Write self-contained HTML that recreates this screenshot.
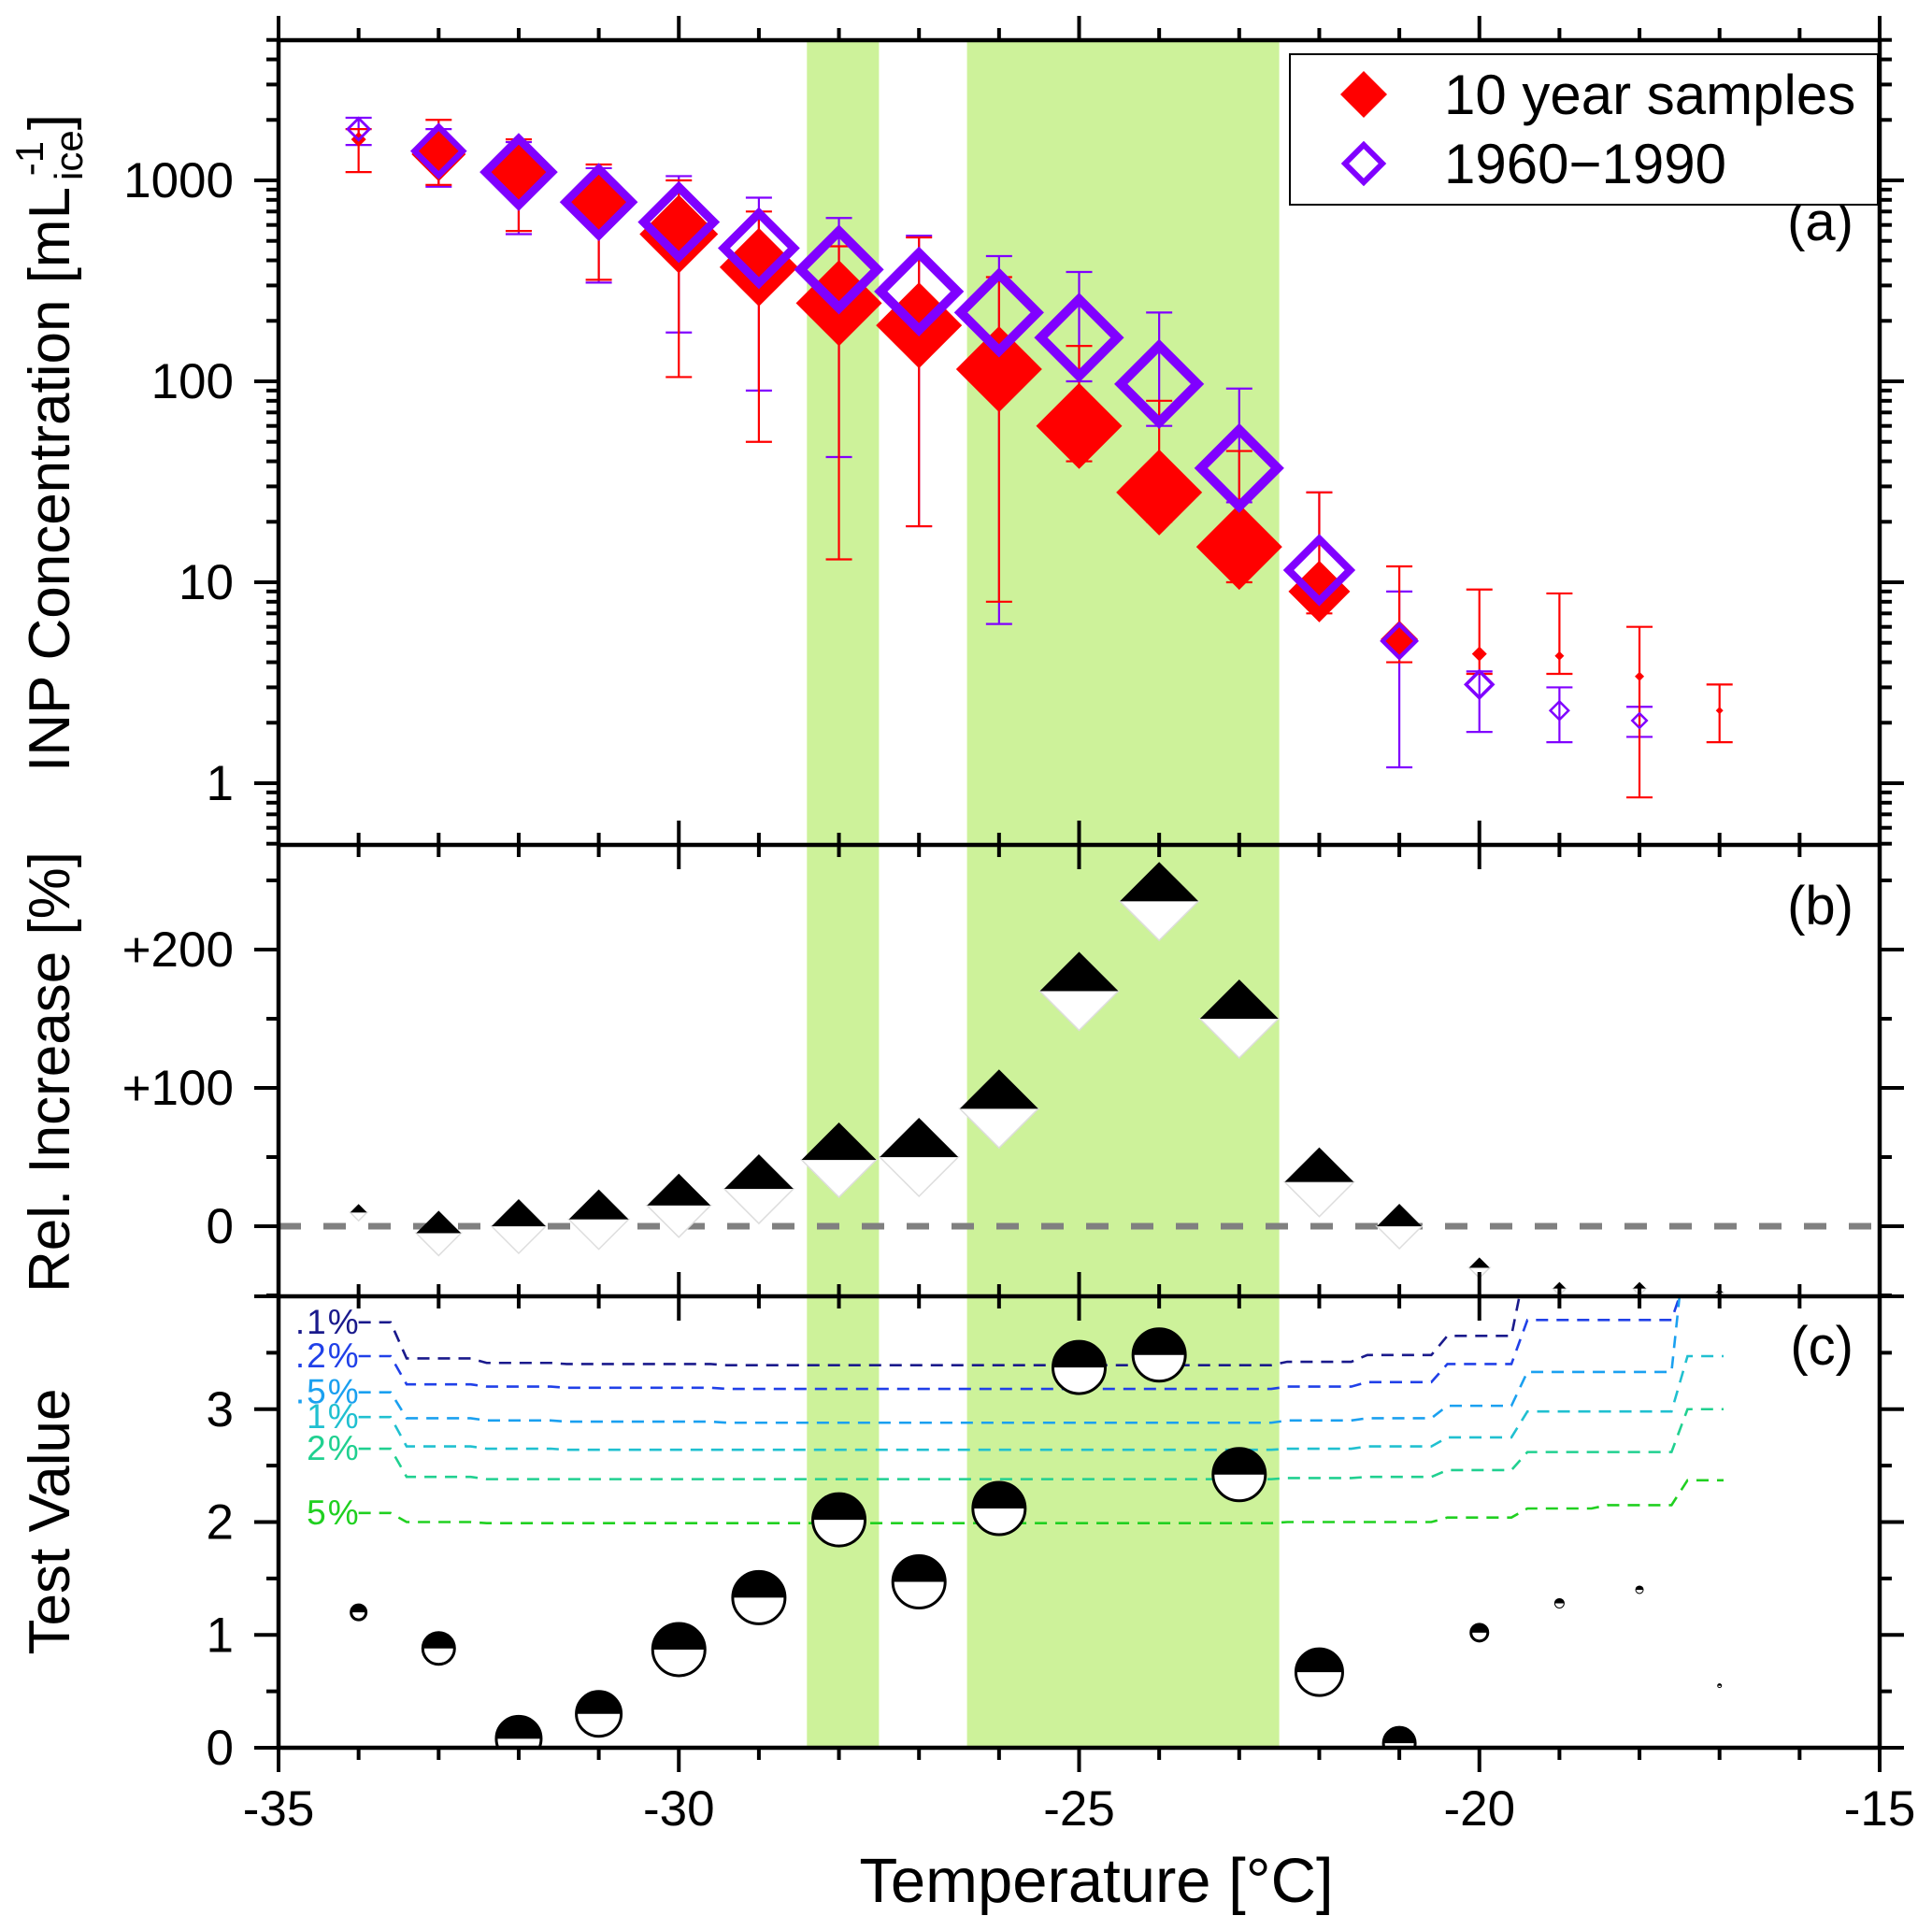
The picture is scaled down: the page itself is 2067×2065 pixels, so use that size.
<!DOCTYPE html>
<html><head><meta charset="utf-8"><style>
body{margin:0;background:#fff}
svg{display:block;font-family:"Liberation Sans",Arial,sans-serif}
</style></head><body>
<svg id="chart" width="2067" height="2065" viewBox="0 0 2067 2065" xmlns="http://www.w3.org/2000/svg">
<g id="bands"></g><g id="grid"></g><g id="marks"></g><g id="axes"></g>
<text transform="translate(74,474) rotate(-90)" text-anchor="middle" font-size="62">INP Concentration [mL<tspan font-size="42" dy="-28"> -1</tspan><tspan font-size="42" dy="42" dx="-42">ice</tspan><tspan dy="-14">]</tspan></text>
<text transform="translate(74,1147) rotate(-90)" text-anchor="middle" font-size="62">Rel. Increase [%]</text>
<text transform="translate(74,1628) rotate(-90)" text-anchor="middle" font-size="62">Test Value</text>
<text x="1173" y="2035" text-anchor="middle" font-size="67">Temperature [°C]</text>
<text x="1983" y="257" text-anchor="end" font-size="58">(a)</text>
<text x="1983" y="989" text-anchor="end" font-size="58">(b)</text>
<text x="1983" y="1460" text-anchor="end" font-size="58">(c)</text>
<g>
<rect x="1380" y="58" width="629" height="161" fill="#fff" stroke="#000" stroke-width="2"/>
<path d="M1459,76 L1484,101 L1459,126 L1434,101Z" fill="#ff0000"/>
<text x="1545" y="122" font-size="60">10 year samples</text>
<path d="M1459,155 L1479,175 L1459,195 L1439,175Z" fill="none" stroke="#8000ff" stroke-width="6"/>
<text x="1545" y="196" font-size="60">1960−1990</text>
</g>
</svg>
<script>
const temps=[-34,-33,-32,-31,-30,-29,-28,-27,-26,-25,-24,-23,-22,-21,-20,-19,-18,-17];
const recentVals=[1600,1350,1050,760,540,370,245,190,115,60,28,15,9,5.2,4.4,4.3,3.4,2.3];
const recentLo=[1100,950,560,320,105,50,13,19,8,40,20,10,7,4,3.5,3.5,0.85,1.6];
const recentHi=[1800,2000,1600,1200,1000,700,470,520,330,150,80,45,28,12,9.2,8.8,6,3.1];
const recentSize=[8,29,37,37,42,42,46,46,46,46,46,46,33,20,8,5,5,4];
const histVals=[1800,1400,1100,780,620,460,360,280,220,165,97,37,11.5,5.1,3.1,2.3,2.05];
const histLo=[1500,930,540,310,175,90,42,19,6.2,100,60,25,8,1.2,1.8,1.6,1.7];
const histHi=[2050,1800,1550,1150,1050,820,650,530,420,350,220,92,28,9,3.6,3.0,2.4];
const histSize=[13,29,40,40,42,42,46,46,46,46,46,46,37,20,16,11,9];
const relVals=[10,-5,0,5,15,27,48,50,85,170,235,150,32,0,-30,-45,-45,-48];
const relSize=[9,24,29,32,34,37,40,42,42,42,42,42,37,24,11,7,7,4];
const testVals=[1.2,0.88,0.08,0.3,0.87,1.33,2.02,1.47,2.12,3.37,3.48,2.42,0.67,0.04,1.02,1.28,1.4,0.55];
const testRad=[8,17,24,24,28,28,28,28,28,28,28,28,25,17,9,5,4,2];
const levelLabels=[".1%",".2%",".5%","1%","2%","5%"];
const lvl01=[3.77,3.45,3.41,3.4,3.4,3.39,3.39,3.39,3.39,3.39,3.39,3.39,3.42,3.48,3.65,null,null,null];
const lvl02=[3.47,3.22,3.2,3.19,3.19,3.18,3.18,3.18,3.18,3.18,3.18,3.18,3.2,3.24,3.4,3.79,3.79,null];
const lvl05=[3.15,2.92,2.9,2.89,2.89,2.88,2.88,2.88,2.88,2.88,2.88,2.88,2.9,2.92,3.03,3.33,3.33,null];
const lvl1=[2.93,2.67,2.65,2.64,2.64,2.64,2.64,2.64,2.64,2.64,2.64,2.64,2.65,2.67,2.75,2.98,2.98,3.47];
const lvl2=[2.65,2.4,2.38,2.38,2.38,2.38,2.38,2.38,2.38,2.38,2.38,2.38,2.39,2.4,2.46,2.62,2.62,3.0];
const lvl5=[2.08,2.0,1.99,1.99,1.99,1.99,1.99,1.99,1.99,1.99,1.99,1.99,2.0,2.0,2.04,2.12,2.15,2.37];
const bandStarts=[-28.4,-26.4];
const bandEnds=[-27.5,-22.5];
const xTicks=[-35,-30,-25,-20,-15];

const NS="http://www.w3.org/2000/svg";
const L=298,R=2011,TA=43,BA=904,BB=1387,BC=1870;
const X=t=>L+(t+35)*(R-L)/20;
const Ya=v=>193-(Math.log10(v)-3)*215;
const Yb=v=>1312-v*1.48;
const Yc=v=>BC-v*(BC-BB)/4;
function mk(p,tag,at){const e=document.createElementNS(NS,tag);for(const k in at)e.setAttribute(k,at[k]);p.appendChild(e);return e;}
const bands=document.getElementById('bands'),marks=document.getElementById('marks'),axes=document.getElementById('axes');

bandStarts.forEach((s,i)=>{
 const r=mk(bands,'rect',{x:X(s),y:TA,width:X(bandEnds[i])-X(s),height:BC-TA,fill:'#cdf29a'});
 
 
});

const zl=mk(marks,'line',{x1:L,x2:R,y1:Yb(0),y2:Yb(0),stroke:'#808080','stroke-width':7,'stroke-dasharray':'24 24'});



function errbar(t,lo,hi,col,nm){
 const g=mk(marks,'g',{stroke:col,'stroke-width':2.2});
 
 
 const x=X(t);mk(g,'line',{x1:x,x2:x,y1:Ya(lo),y2:Ya(hi)});
 mk(g,'line',{x1:x-14,x2:x+14,y1:Ya(lo),y2:Ya(lo)});mk(g,'line',{x1:x-14,x2:x+14,y1:Ya(hi),y2:Ya(hi)});
}
histVals.forEach((v,i)=>errbar(temps[i],histLo[i],histHi[i],'#8000ff','error-bar-1960'));
recentVals.forEach((v,i)=>errbar(temps[i],recentLo[i],recentHi[i],'#ff0000','error-bar-10yr'));
function dia(x,y,s){return `M${x},${y-s} L${x+s},${y} L${x},${y+s} L${x-s},${y}Z`;}
recentVals.forEach((v,i)=>{
 const p=mk(marks,'path',{d:dia(X(temps[i]),Ya(v),recentSize[i]),fill:'#ff0000'});
 
 
});
histVals.forEach((v,i)=>{
 const s=histSize[i],w=Math.max(2.5,s*0.22);
 const p=mk(marks,'path',{d:dia(X(temps[i]),Ya(v),s-w/2),fill:'none',stroke:'#8000ff','stroke-width':w});
 
 
});
relVals.forEach((v,i)=>{
 const x=X(temps[i]),y=Yb(v),s=relSize[i];
 const g=mk(marks,'g',{});
 
 
 mk(g,'path',{d:`M${x-s},${y} L${x},${y+s} L${x+s},${y}Z`,fill:'#fff',stroke:'#ddd','stroke-width':1.5});
 mk(g,'path',{d:`M${x-s},${y} L${x},${y-s} L${x+s},${y}Z`,fill:'#000'});
});
const levels=[lvl01,lvl02,lvl05,lvl1,lvl2,lvl5];
const lcols=['#1a1a8c','#2040e8','#1aa0f0','#20c0d0','#20d090','#20d020'];
levels.forEach((arr,k)=>{
 let d='';let started=false;
 arr.forEach((v,i)=>{
  const t=temps[i];
  if(v===null){ if(started){d+=` L${X(t-0.5)},${BB}`;started=false;} return; }
  const a=i===0?t:t-0.4;
  const b=i===arr.length-1?t+0.05:t+0.4;
  if(!started){d+=`M${X(a)},${Yc(v)}`;started=true;} else d+=` L${X(a)},${Yc(v)}`;
  d+=` L${X(b)},${Yc(v)}`;
 });
 const p=mk(marks,'path',{d:d,fill:'none',stroke:lcols[k],'stroke-width':2.6,'stroke-dasharray':'13 9'});
 
 
 const tx=mk(marks,'text',{x:X(-34)+2,y:Yc(arr[0])+12,'text-anchor':'end',fill:lcols[k],'font-size':37,'letter-spacing':2});
 tx.textContent=levelLabels[k];
 
 
});
testVals.forEach((v,i)=>{
 const x=X(temps[i]),y=Yc(v),r=testRad[i];
 const g=mk(marks,'g',{});
 
 
 mk(g,'circle',{cx:x,cy:y,r:r,fill:'#fff',stroke:'#000','stroke-width':r>5?3:1});
 mk(g,'path',{d:`M${x-r},${y} A${r},${r} 0 0 1 ${x+r},${y}Z`,fill:'#000'});
});
marks.setAttribute('clip-path','url(#clipP)');
const defs=mk(document.getElementById('chart'),'defs',{});
const cp=mk(defs,'clipPath',{id:'clipP'});mk(cp,'rect',{x:L,y:TA,width:R-L,height:BC-TA});

const ax=mk(axes,'g',{stroke:'#000','stroke-width':4.5,fill:'none'});


mk(ax,'rect',{x:L,y:TA,width:R-L,height:BC-TA});
mk(ax,'line',{x1:L,x2:R,y1:BA,y2:BA});mk(ax,'line',{x1:L,x2:R,y1:BB,y2:BB});
const tk=mk(axes,'g',{stroke:'#000','stroke-width':4});
for(let t=-35;t<=-15;t++){
 const maj=t%5===0,len=maj?26:13,x=X(t);
 mk(tk,'line',{x1:x,x2:x,y1:TA,y2:TA-len});
 [BA,BB].forEach(y=>mk(tk,'line',{x1:x,x2:x,y1:y-len,y2:y+len}));
 mk(tk,'line',{x1:x,x2:x,y1:BC,y2:BC+len});
}
xTicks.forEach(t=>{
 const tx=mk(axes,'text',{x:X(t),y:1953,'text-anchor':'middle','font-size':53});
 tx.textContent=String(t);
 
 
});
function ytick(y,len){mk(tk,'line',{x1:L,x2:L-len,y1:y,y2:y});mk(tk,'line',{x1:R,x2:R+len,y1:y,y2:y});}
function ylab(y,s){const tx=mk(axes,'text',{x:250,y:y+18,'text-anchor':'end','font-size':53});tx.textContent=s;
 
 }
for(let e=-1;e<=3;e++)for(let m=1;m<=9;m++){const v=m*Math.pow(10,e);if(v<0.5||v>5000)continue;const y=Ya(v);ytick(y,m===1?26:13);if(m===1&&e>=0)ylab(y,String(v));}
for(let v=-50;v<=250;v+=50){const y=Yb(v);ytick(y,v%100===0?26:13);}
ylab(Yb(0),'0');ylab(Yb(100),'+100');ylab(Yb(200),'+200');
for(let v=0;v<=4;v+=0.5){const y=Yc(v);ytick(y,v%1===0?26:13);if(v%1===0&&v<4)ylab(y,String(v));}
</script>
</body></html>
